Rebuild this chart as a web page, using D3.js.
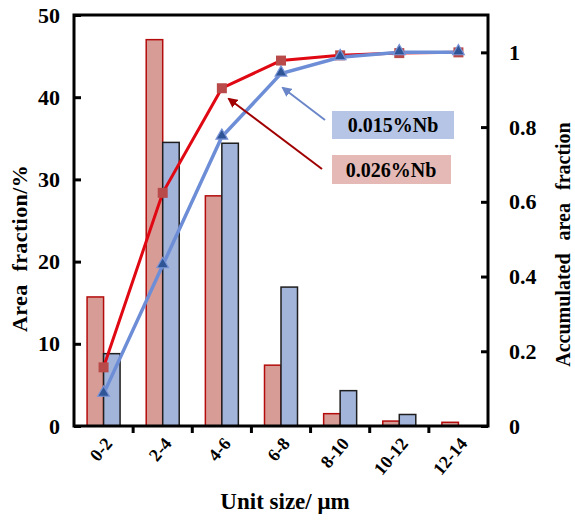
<!DOCTYPE html>
<html>
<head>
<meta charset="utf-8">
<script src="https://cdn.jsdelivr.net/npm/d3@7"></script>
<style>
  body { margin: 0; background: #fff; }
  text { font-family: "Liberation Serif", "Times New Roman", serif; font-weight: bold; }
</style>
</head>
<body>
<div id="main"></div>
<script>
var categories = ["0-2", "2-4", "4-6", "6-8", "8-10", "10-12", "12-14"];
var areaHigh = [15.7, 47.0, 28.0, 7.4, 1.5, 0.6, 0.45];   // 0.026%Nb
var areaLow = [8.8, 34.5, 34.4, 16.9, 4.3, 1.4, 0];       // 0.015%Nb
var accHigh = [0.157, 0.624, 0.904, 0.978, 0.992, 0.998, 1.0];
var accLow = [0.086, 0.43, 0.774, 0.943, 0.987, 1.0, 1.0];
var leftTicks = [0, 10, 20, 30, 40, 50];
var rightTicks = [0, 0.2, 0.4, 0.6, 0.8, 1];

var margin = {top: 15, right: 87, bottom: 94, left: 74},
    width = 575 - margin.left - margin.right,
    height = 520 - margin.top - margin.bottom;

var svg = d3.select("#main")
  .append("svg")
    .attr("width", 575)
    .attr("height", 520)
  .append("g")
    .attr("transform", "translate(" + margin.left + "," + margin.top + ")");

var x = d3.scaleBand()
  .domain(categories)
  .range([0, width]);

var y = d3.scaleLinear()
  .domain([0, 50])
  .range([height, 0]);

var y2 = d3.scaleLinear()
  .domain([0, 1.1])
  .range([height, 0]);

var barW = 16.5;
function mid(i) { return x(categories[i]) + x.bandwidth() / 2; }

// bars
svg.append("g").selectAll("rect")
  .data(areaHigh)
  .enter()
  .append("rect")
    .attr("x", function(d, i) { return mid(i) - barW; })
    .attr("y", function(d) { return y(d); })
    .attr("width", barW)
    .attr("height", function(d) { return height - y(d); })
    .style("fill", "#d89c96")
    .style("stroke", "#b40c0c")
    .style("stroke-width", 1.5);

svg.append("g").selectAll("rect")
  .data(areaLow)
  .enter()
  .append("rect")
    .attr("x", function(d, i) { return mid(i); })
    .attr("y", function(d) { return y(d); })
    .attr("width", barW)
    .attr("height", function(d) { return height - y(d); })
    .style("fill", "#a3b4db")
    .style("stroke", "#1e1e1e")
    .style("stroke-width", function(d) { return d > 0 ? 1.5 : 0; });

// cumulative lines
var line = d3.line()
  .x(function(d, i) { return mid(i); })
  .y(function(d) { return y2(d); });

svg.append("path")
  .datum(accHigh)
  .attr("d", line)
  .style("fill", "none")
  .style("stroke", "#e00812")
  .style("stroke-width", 3);

svg.append("path")
  .datum(accLow)
  .attr("d", line)
  .style("fill", "none")
  .style("stroke", "#6d8ed6")
  .style("stroke-width", 3.5);

svg.append("g").selectAll("rect")
  .data(accHigh)
  .enter()
  .append("rect")
    .attr("x", function(d, i) { return mid(i) - 5; })
    .attr("y", function(d) { return y2(d) - 5; })
    .attr("width", 10)
    .attr("height", 10)
    .style("fill", "#b94a4a");

svg.append("g").selectAll("path")
  .data(accLow)
  .enter()
  .append("path")
    .attr("d", d3.symbol().type(d3.symbolTriangle).size(60))
    .attr("transform", function(d, i) {
      return "translate(" + mid(i) + "," + (y2(d) - 1) + ")";
    })
    .style("fill", "#2f5596")
    .style("stroke", "#7893d6")
    .style("stroke-width", 1.2);

// annotation arrows
svg.append("defs").selectAll("marker")
  .data([["arrBlue", "#6a86c8"], ["arrRed", "#a00000"]])
  .enter()
  .append("marker")
    .attr("id", function(d) { return d[0]; })
    .attr("viewBox", "0 0 10 10")
    .attr("refX", 8).attr("refY", 5)
    .attr("markerWidth", 5).attr("markerHeight", 5)
    .attr("orient", "auto")
  .append("path")
    .attr("d", "M0,0 L10,5 L0,10 z")
    .style("fill", function(d) { return d[1]; });

svg.append("line")
  .attr("x1", 251).attr("y1", 105)
  .attr("x2", 209).attr("y2", 73)
  .style("stroke", "#6a86c8").style("stroke-width", 2)
  .attr("marker-end", "url(#arrBlue)");

svg.append("line")
  .attr("x1", 248).attr("y1", 154)
  .attr("x2", 155).attr("y2", 84)
  .style("stroke", "#a00000").style("stroke-width", 2)
  .attr("marker-end", "url(#arrRed)");

// legend boxes
svg.append("rect")
  .attr("x", 258).attr("y", 96).attr("width", 122).attr("height", 28)
  .style("fill", "#b6c5e5");
svg.append("text")
  .attr("x", 319).attr("y", 117)
  .attr("text-anchor", "middle")
  .style("font-size", "20px")
  .text("0.015%Nb");

svg.append("rect")
  .attr("x", 258).attr("y", 140).attr("width", 119).attr("height", 29)
  .style("fill", "#e5b9b5");
svg.append("text")
  .attr("x", 317).attr("y", 162)
  .attr("text-anchor", "middle")
  .style("font-size", "20px")
  .text("0.026%Nb");

// axes
var xAxis = svg.append("g")
  .attr("transform", "translate(0," + height + ")");
xAxis.selectAll(".sep")
  .data(categories.slice(1))
  .enter()
  .append("line")
    .attr("x1", function(d) { return x(d); })
    .attr("x2", function(d) { return x(d); })
    .attr("y1", 0).attr("y2", 7)
    .style("stroke", "#000").style("stroke-width", 3);

xAxis.selectAll(".lab")
  .data(categories)
  .enter()
  .append("text")
    .attr("text-anchor", "end")
    .attr("transform", function(d) {
      return "translate(" + (x(d) + x.bandwidth() / 2 + 5) + ",14) rotate(-50)";
    })
    .attr("dy", "0.35em")
    .style("font-size", "18px")
    .style("fill", "#000")
    .text(function(d) { return d; });

var yAxis = svg.append("g")
  .call(d3.axisLeft(y).tickValues(leftTicks).tickSize(-7).tickPadding(14));
var y2Axis = svg.append("g")
  .attr("transform", "translate(" + width + ",0)")
  .call(d3.axisRight(y2).tickValues(rightTicks).tickSize(-7).tickPadding(21)
    .tickFormat(function(d) { return d; }));

[yAxis, y2Axis].forEach(function(a) {
  a.select(".domain").remove();
  a.selectAll("line").style("stroke-width", 3);
  a.selectAll("text")
    .style("font-size", "22px")
    .style("font-family", "'Liberation Serif', serif")
    .style("font-weight", "bold")
    .attr("fill", "#000");
});

// frame
svg.append("rect")
  .attr("x", 0).attr("y", 0)
  .attr("width", width).attr("height", height)
  .style("fill", "none")
  .style("stroke", "#000")
  .style("stroke-width", 3);

// titles
svg.append("text")
  .attr("text-anchor", "middle")
  .attr("transform", "translate(-47," + (height / 2 + 28) + ") rotate(-90)")
  .style("font-size", "22px")
  .style("word-spacing", "7px")
  .style("letter-spacing", "0.4px")
  .text("Area fraction/%");

svg.append("text")
  .attr("text-anchor", "middle")
  .attr("transform", "translate(" + (width + 82) + "," + (height / 2 + 24) + ") rotate(-90)")
  .style("font-size", "20px")
  .style("word-spacing", "8px")
  .text("Accumulated area fraction");

svg.append("text")
  .attr("text-anchor", "middle")
  .attr("x", width / 2 + 4)
  .attr("y", height + 83)
  .style("font-size", "23px")
  .text("Unit size/ μm");
</script>
</body>
</html>
